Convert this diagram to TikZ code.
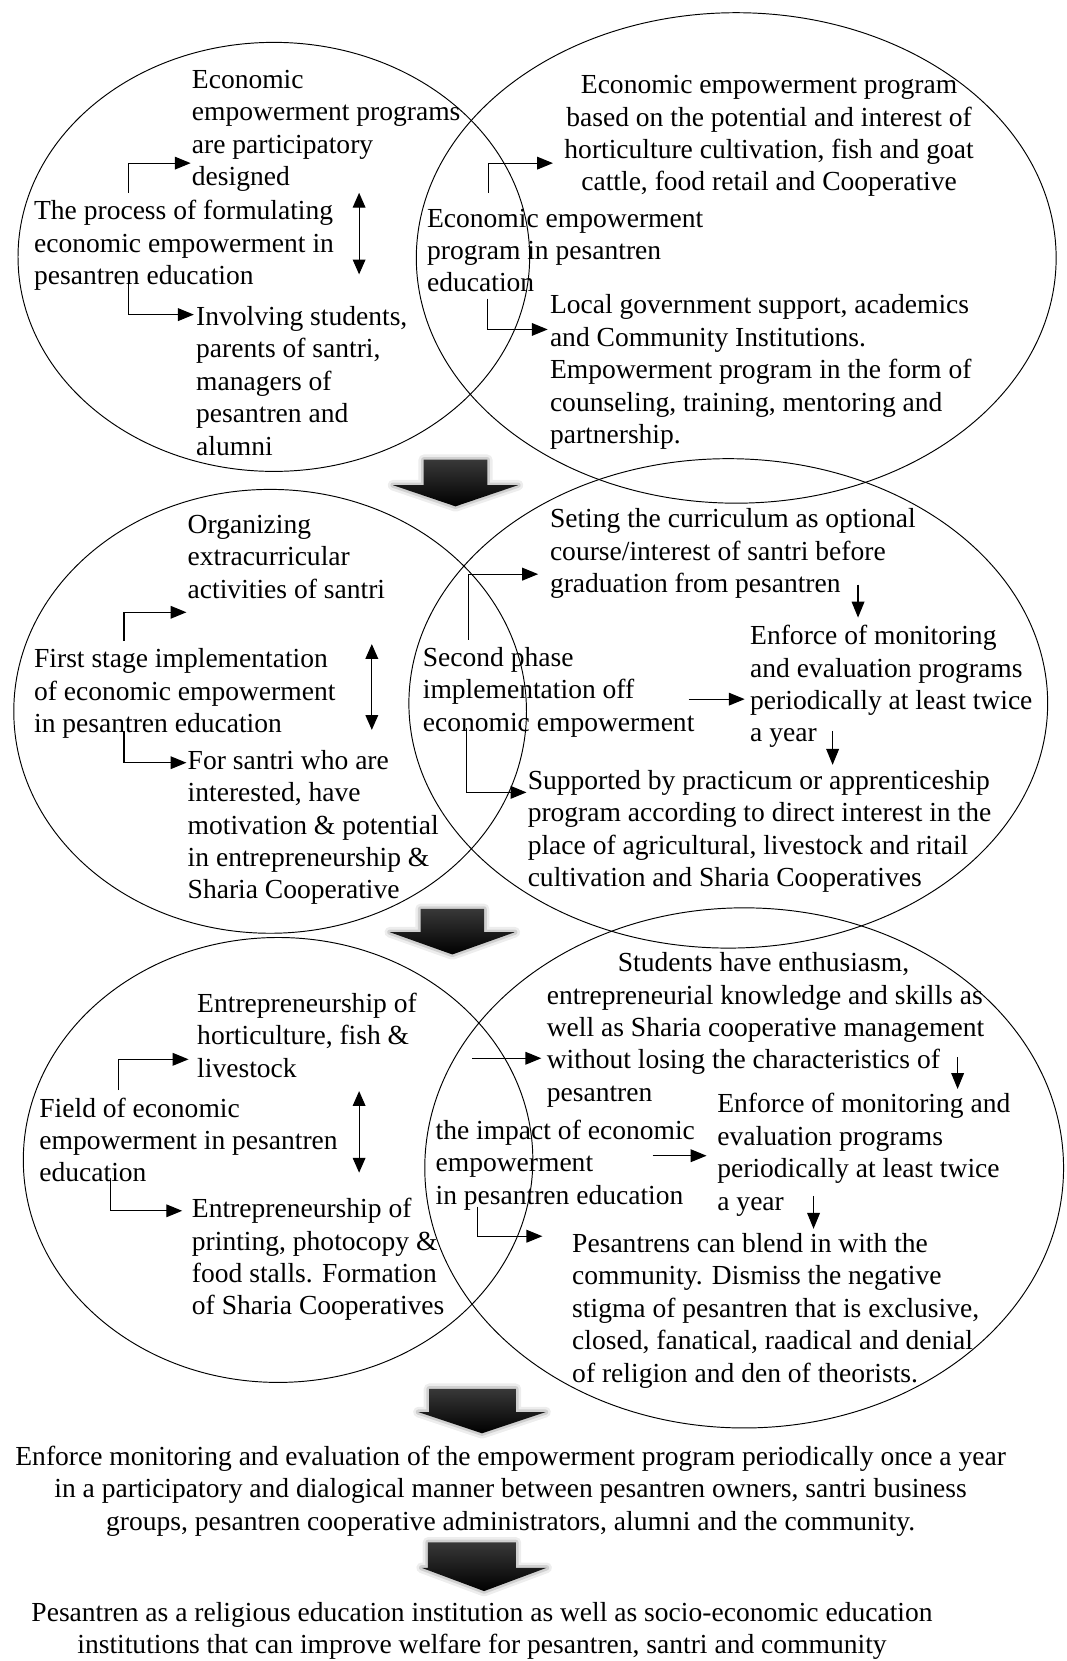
\documentclass[tikz,border=0pt]{standalone}
\usepackage{fontspec}
\setmainfont{Liberation Serif}
\usetikzlibrary{shapes.geometric,arrows.meta,calc}
\begin{document}
\begin{tikzpicture}[x=1pt,y=-1pt,
  txt/.style={font=\fontsize{26}{30.6}\selectfont, align=left, inner sep=0pt, anchor=north west},
  ctxt/.style={txt, align=center, anchor=north},
  venn/.style={draw, ellipse, line width=0.9pt, inner sep=0pt},
  arr/.style={line width=1.1pt, -{Triangle[length=15pt,width=12pt]}},
  darr/.style={line width=1.1pt, {Triangle[length=14pt,width=12pt]}-{Triangle[length=14pt,width=12pt]}},
  bigarrow/.style={top color=black!78, middle color=black, bottom color=black, draw=none,
    preaction={draw=black, opacity=0.07, line width=10pt, line join=round},
    preaction={draw=black, opacity=0.12, line width=5pt, line join=round}}
]
\useasboundingbox (0,0) rectangle (1007,1568);

% ---------- ellipses ----------
\node[venn, minimum width=483pt, minimum height=405pt] (L1) at (258.5,242.5) {};
\node[venn, minimum width=604pt, minimum height=463pt] (R1) at (695,243.5) {};
\node[venn, minimum width=484pt, minimum height=419pt] (L2) at (255,671.5) {};
\node[venn, minimum width=603pt, minimum height=462pt] (R2) at (687.5,664) {};
\node[venn, minimum width=481pt, minimum height=420pt] (L3) at (262.5,1095) {};
\node[venn, minimum width=603pt, minimum height=491pt] (R3) at (702.5,1102.5) {};

% ---------- row 1 ----------
\node[txt] (A1) at (181,66) {Economic\\empowerment programs\\are participatory\\designed};
\node[txt] (B1) at (32,189) {The process of formulating\\economic empowerment in\\pesantren education};
\node[txt] (C1) at (185,289) {Involving students,\\parents of santri,\\managers of\\pesantren and\\alumni};
\node[ctxt] (A1r) at (726,71) {Economic empowerment program\\based on the potential and interest of\\horticulture cultivation, fish and goat\\cattle, food retail and Cooperative};
\node[txt] (B1r) at (403,197) {Economic empowerment\\program in pesantren\\education};
\node[txt] (C1r) at (519,278) {Local government support, academics\\and Community Institutions.\\Empowerment program in the form of\\counseling, training, mentoring and\\partnership.};

\draw[arr] ($(B1.north west)+(89,-7)$) |- ($(A1.north west)+(-1,88)$);
\draw[arr] ($(B1.north west)+(89,77)$) |- ($(C1.north west)+(-2,8)$);
\draw[darr] ($(A1.north west)+(158,116)$) -- ($(C1.north west)+(154,-30)$);
\draw[arr] ($(B1r.north west)+(58,-15)$) |- ($(A1r.north)+(-204,83)$);
\draw[arr] ($(B1r.north west)+(57,85)$) |- ($(C1r.north west)+(-2,33)$);

% ---------- row 2 ----------
\node[txt] (A2) at (177,486) {Organizing\\extracurricular\\activities of santri};
\node[txt] (B2) at (32,612) {First stage implementation\\of economic empowerment\\in pesantren education};
\node[txt] (C2) at (177,708) {For santri who are\\interested, have\\motivation \& potential\\in entrepreneurship \&\\Sharia Cooperative};
\node[txt] (A2r) at (519,480) {Seting the curriculum as optional\\course/interest of santri before\\graduation from pesantren};
\node[txt] (B2r) at (399,611) {Second phase\\implementation off\\economic empowerment};
\node[txt] (C2r) at (708,590) {Enforce of monitoring\\and evaluation programs\\periodically at least twice\\a year};
\node[txt] (D2r) at (498,727) {Supported by practicum or apprenticeship\\program according to direct interest in the\\place of agricultural, livestock and ritail\\cultivation and Sharia Cooperatives};

\draw[arr] ($(B2.north west)+(85,-7)$) |- ($(A2.north west)+(-1,92)$);
\draw[arr] ($(B2.north west)+(85,78)$) |- ($(C2.north west)+(-1,12)$);
\draw[darr] ($(A2.north west)+(174,122)$) -- ($(C2.north west)+(174,-19)$);
\draw[arr] ($(B2r.north west)+(43,-7)$) |- ($(A2r.north west)+(-11,62)$);
\draw[arr] ($(B2r.north west)+(41,76)$) |- ($(D2r.north west)+(-1,21)$);
\draw[arr] ($(B2r.north west)+(251,49)$) -- ($(C2r.north west)+(-5,70)$);
\draw[arr] ($(A2r.north west)+(291,72)$) -- ($(C2r.north west)+(102,-7)$);
\draw[arr] ($(C2r.north west)+(78,100)$) -- ($(D2r.north west)+(288,-5)$);

% ---------- row 3 ----------
\node[txt] (A3) at (186,937) {Entrepreneurship of\\horticulture, fish \&\\livestock};
\node[txt] (B3) at (37,1036) {Field of economic\\empowerment in pesantren\\education};
\node[txt] (C3) at (181,1131) {Entrepreneurship of\\printing, photocopy \&\\food stalls. Formation\\of Sharia Cooperatives};
\node[txt] (A3r) at (516,899) {\hspace*{67pt}Students have enthusiasm,\\entrepreneurial knowledge and skills as\\well as Sharia cooperative management\\without losing the characteristics of\\pesantren};
\node[txt] (B3r) at (411,1057) {the impact of economic\\empowerment\\in pesantren education};
\node[txt] (C3r) at (677,1032) {Enforce of monitoring and\\evaluation programs\\periodically at least twice\\a year};
\node[txt] (D3r) at (540,1164) {Pesantrens can blend in with the\\community. Dismiss the negative\\stigma of pesantren that is exclusive,\\closed, fanatical, raadical and denial\\of religion and den of theorists.};

\draw[arr] ($(B3.north west)+(75,-7)$) |- ($(A3.north west)+(-8,63)$);
\draw[arr] ($(B3.north west)+(67,76)$) |- ($(C3.north west)+(-9,12)$);
\draw[darr] ($(A3.north west)+(153,93)$) -- ($(C3.north west)+(158,-24)$);
\draw[arr] ($(B3r.north west)+(35,-58)$) -- ($(A3r.north west)+(-5,100)$);
\draw[arr] ($(B3r.north west)+(205,34)$) -- ($(C3r.north west)+(-10,59)$);
\draw[arr] ($(B3r.north west)+(40,82)$) |- ($(D3r.north west)+(-28,3)$);
\draw[arr] ($(A3r.north west)+(388,99)$) -- ($(C3r.north west)+(227,-4)$);
\draw[arr] ($(C3r.north west)+(91,97)$) -- ($(D3r.north west)+(228,-4)$);

% ---------- bottom texts ----------
\node[ctxt] (E) at (482,1365) {Enforce monitoring and evaluation of the empowerment program periodically once a year\\in a participatory and dialogical manner between pesantren owners, santri business\\groups, pesantren cooperative administrators, alumni and the community.};
\node[ctxt] (F) at (455,1512) {Pesantren as a religious education institution as well as socio-economic education\\institutions that can improve welfare for pesantren, santri and community};

% ---------- big arrows ----------
\path[bigarrow] (400,434) -- (460,434) -- (460,458) -- (489,458) -- (430,478) -- (371,458) -- (400,458) -- cycle;
\path[bigarrow] (397,858) -- (457,858) -- (457,880) -- (486,880) -- (427,901) -- (368,880) -- (397,880) -- cycle;
\path[bigarrow] (405,1311) -- (487,1311) -- (487,1333) -- (515,1333) -- (455,1353) -- (395,1333) -- (405,1333) -- cycle;
\path[bigarrow] (404,1456) -- (487,1456) -- (487,1480) -- (516,1480) -- (457,1502) -- (398,1480) -- (404,1480) -- cycle;
\end{tikzpicture}
\end{document}
